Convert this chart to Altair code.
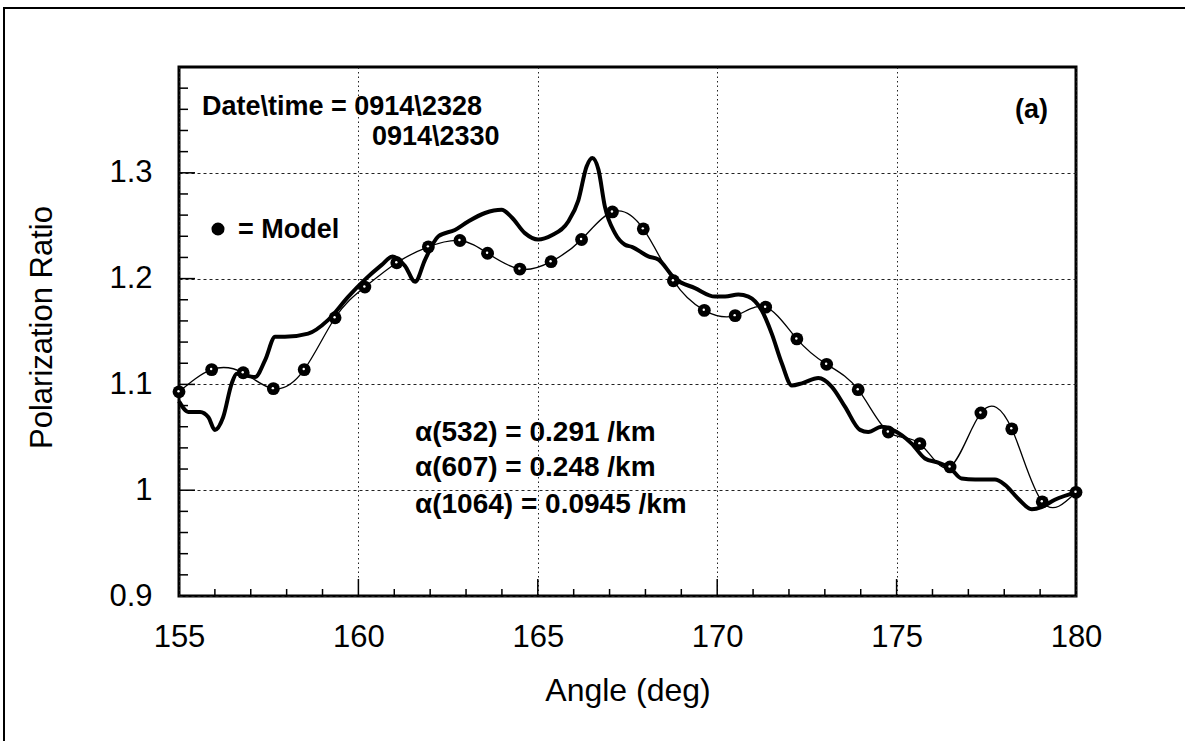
import altair as alt
import pandas as pd

# ---- data ----
meas_angle = [155.0, 155.26, 155.59, 155.82, 156.0, 156.23, 156.47, 156.61, 157.12, 157.4,
              157.68, 157.95, 158.6, 159.16, 159.72, 160.18, 160.65, 160.95, 161.3, 161.58,
              161.86, 162.23, 162.69, 163.06, 163.53, 163.99, 164.27, 164.64, 165.01, 165.39,
              165.85, 166.13, 166.36, 166.52, 166.69, 166.87, 167.15, 167.43, 167.62, 168.08,
              168.36, 168.82, 169.38, 169.94, 170.22, 170.59, 170.87, 171.24, 171.52, 171.8,
              172.08, 172.36, 172.82, 173.19, 173.56, 173.98, 174.21, 174.58, 175.14, 175.42,
              175.79, 176.16, 176.49, 176.81, 177.19, 177.74, 178.02, 178.39, 178.77, 179.04,
              179.41, 180.0]
meas_ratio = [1.084, 1.074, 1.074, 1.069, 1.057, 1.069, 1.101, 1.110, 1.107, 1.123,
              1.145, 1.145, 1.148, 1.161, 1.183, 1.199, 1.213, 1.221, 1.212, 1.197,
              1.218, 1.240, 1.246, 1.254, 1.262, 1.265, 1.258, 1.243, 1.237, 1.241,
              1.254, 1.274, 1.306, 1.314, 1.303, 1.268, 1.243, 1.232, 1.230, 1.221,
              1.218, 1.200, 1.191, 1.183, 1.183, 1.185, 1.183, 1.170, 1.148, 1.120,
              1.099, 1.101, 1.106, 1.098, 1.079, 1.057, 1.055, 1.060, 1.052, 1.044,
              1.030, 1.026, 1.021, 1.011, 1.010, 1.010, 1.005, 0.992, 0.982, 0.984,
              0.991, 0.998]

model_angle = [155.0, 155.91, 156.79, 157.63, 158.49, 159.35, 160.18, 161.07, 161.95, 162.83,
               163.6, 164.5, 165.37, 166.22, 167.08, 167.94, 168.78, 169.64, 170.5, 171.35,
               172.22, 173.05, 173.93, 174.77, 175.65, 176.49, 177.35, 178.21, 179.06, 180.0]
model_ratio = [1.093, 1.114, 1.111, 1.096, 1.114, 1.163, 1.192, 1.215, 1.230, 1.236,
               1.224, 1.209, 1.216, 1.237, 1.263, 1.247, 1.198, 1.170, 1.165, 1.173,
               1.143, 1.119, 1.095, 1.055, 1.044, 1.022, 1.073, 1.058, 0.989, 0.998]

x_major_ticks = [155, 160, 165, 170, 175, 180]
x_inner_major = [160, 165, 170, 175]
x_minor_ticks = [156, 157, 158, 159, 161, 162, 163, 164, 166, 167, 168, 169,
                 171, 172, 173, 174, 176, 177, 178, 179]
y_major_ticks = [0.9, 1.0, 1.1, 1.2, 1.3]
y_inner_major = [1.0, 1.1, 1.2, 1.3]
y_minor_ticks = [0.92, 0.94, 0.96, 0.98, 1.02, 1.04, 1.06, 1.08, 1.12, 1.14, 1.16, 1.18,
                 1.22, 1.24, 1.26, 1.28, 1.32, 1.34, 1.36, 1.38]

W, H = 897, 529
FONT = "Liberation Sans"

meas = pd.DataFrame({"angle": meas_angle, "ratio": meas_ratio})
model = pd.DataFrame({"angle": model_angle, "ratio": model_ratio})

xs = alt.Scale(domain=[155, 180], nice=False, zero=False)
ys = alt.Scale(domain=[0.9, 1.4], nice=False, zero=False)

x_axis = alt.Axis(values=x_major_ticks, ticks=False, domain=False, labelFontSize=31,
                  labelFont=FONT, labelColor="black", labelPadding=26, labelFlush=False,
                  title="Angle (deg)", titleFontSize=32, titleFont=FONT,
                  titleFontWeight="normal", titleColor="black", titleY=94,
                  titleBaseline="middle",
                  grid=True, gridDash=[1.5, 3], gridColor="#222", gridWidth=1)
y_axis = alt.Axis(values=y_major_ticks, ticks=False, domain=False, labelFontSize=31,
                  labelFont=FONT, labelColor="black", labelPadding=27, format="~g",
                  labelFlush=False,
                  title="Polarization Ratio", titleFontSize=31, titleFont=FONT,
                  titleFontWeight="normal", titleColor="black", titleX=-137,
                  titleY=260, titleBaseline="middle", titleAngle=-90,
                  grid=True, gridDash=[3, 3], gridColor="#222", gridWidth=1)

base_x = alt.X("angle:Q", scale=xs, axis=x_axis)
base_y = alt.Y("ratio:Q", scale=ys, axis=y_axis)

meas_line = alt.Chart(meas).mark_line(color="black", strokeWidth=4,
                                      interpolate="monotone").encode(x=base_x, y=base_y)
model_line = alt.Chart(model).mark_line(color="black", strokeWidth=1.3,
                                        interpolate="natural").encode(
    x=alt.X("angle:Q", scale=xs), y=alt.Y("ratio:Q", scale=ys))
model_pts = alt.Chart(model).mark_point(filled=True, color="black", size=165, opacity=1,
                                        shape="circle").encode(
    x=alt.X("angle:Q", scale=xs), y=alt.Y("ratio:Q", scale=ys))
model_hi = alt.Chart(model).mark_point(filled=True, color="white", size=6, opacity=1,
                                       shape="circle", xOffset=-0.5, yOffset=-0.5).encode(
    x=alt.X("angle:Q", scale=xs), y=alt.Y("ratio:Q", scale=ys))

# inward ticks
def xticks(vals, length):
    return alt.Chart(pd.DataFrame({"t": vals})).mark_rule(color="black", strokeWidth=1.5).encode(
        x=alt.X("t:Q", scale=xs), y=alt.value(H), y2=alt.value(H - length))

def yticks(vals, length):
    return alt.Chart(pd.DataFrame({"t": vals})).mark_rule(color="black", strokeWidth=1.5).encode(
        y=alt.Y("t:Q", scale=ys), x=alt.value(0), x2=alt.value(length))

tick_layers = [xticks(x_minor_ticks, 7), xticks(x_inner_major, 17),
               yticks(y_minor_ticks, 9), yticks(y_inner_major, 16)]

# annotations
def label(text, x, y, size=27, align="left", weight="bold"):
    return alt.Chart(pd.DataFrame({"s": [text]})).mark_text(
        align=align, baseline="middle", fontSize=size, font=FONT, fontWeight=weight,
        color="black").encode(text="s:N", x=alt.value(x), y=alt.value(y))

texts = [
    label("Date\\time = 0914\\2328", 23, 40),
    label("0914\\2330", 193, 70),
    label("(a)", 869, 43, align="right"),
    label("= Model", 59, 163),
    label("\u03b1(532) = 0.291 /km", 236, 366, size=28),
    label("\u03b1(607) = 0.248 /km", 236, 401, size=28),
    label("\u03b1(1064) = 0.0945 /km", 236, 438, size=28),
]
bullet = alt.Chart(pd.DataFrame({"s": [1]})).mark_point(
    filled=True, color="black", size=170, opacity=1, shape="circle").encode(
    x=alt.value(39), y=alt.value(162))

frame = alt.Chart(pd.DataFrame({"s": [1]})).mark_rect(
    filled=False, stroke="black", strokeWidth=2).encode(
    x=alt.value(-175), x2=alt.value(1020), y=alt.value(-59), y2=alt.value(680))

chart = alt.layer(
    meas_line, model_line, model_pts, model_hi, *tick_layers, *texts, bullet, frame
).properties(
    width=W, height=H,
    autosize=alt.AutoSizeParams(type="none"),
    padding={"left": 179, "top": 67, "right": 109, "bottom": 145},
    background="white",
).configure_view(stroke="black", strokeWidth=3)

chart.save("out.html", embed_options={"renderer": "svg", "actions": False})
